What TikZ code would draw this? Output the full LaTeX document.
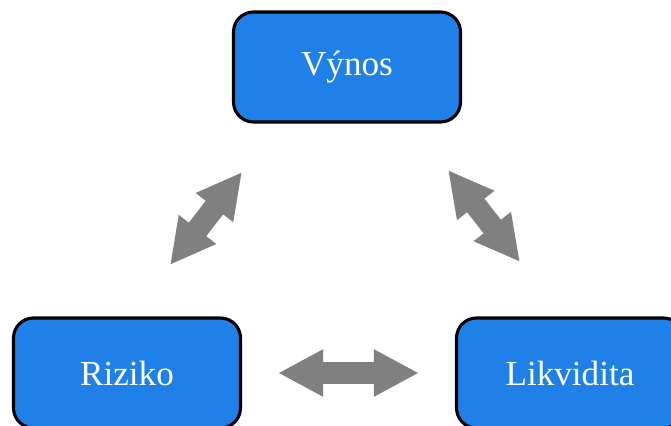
\documentclass[tikz,border=0pt]{standalone}
\usepackage{fontspec}
\setmainfont{Liberation Serif}
\usetikzlibrary{positioning, arrows.meta}
\definecolor{boxblue}{RGB}{31,128,232}
\definecolor{arrgray}{RGB}{128,128,128}

\begin{document}
\begin{tikzpicture}[
  factor/.style={rectangle, rounded corners=0.5cm, draw=black, fill=boxblue,
                 line width=2.2pt, minimum width=5.675cm, minimum height=2.75cm,
                 align=center, text=white, font=\fontsize{25}{30}\selectfont},
  bigarr/.style={{Triangle[length=1.125cm, width=1.1cm]}-{Triangle[length=1.125cm, width=1.1cm]},
                 line width=0.55cm, color=arrgray}
]
  \useasboundingbox (0,0) rectangle (16.775,10.625);
  \clip (0,0) rectangle (16.775,10.625);

  \node[factor] (vynos)     at (8.675,8.95) {Výnos};
  \node[factor] (riziko)    at (3.175,1.3)  {Riziko};
  \node[factor] (likvidita) at (14.25,1.3)  {Likvidita};

  % arrow ends
  \coordinate (rv1) at (4.25,4.0);
  \coordinate (rv2) at (6.05,6.325);
  \coordinate (vl1) at (11.2,6.375);
  \coordinate (vl2) at (13.0,4.075);

  \draw[bigarr] (rv1) -- (rv2);
  \draw[bigarr] (vl1) -- (vl2);
  \draw[bigarr, yshift=0.075cm, shorten <=0.9cm, shorten >=0.9cm] (riziko) -- (likvidita);
\end{tikzpicture}
\end{document}
